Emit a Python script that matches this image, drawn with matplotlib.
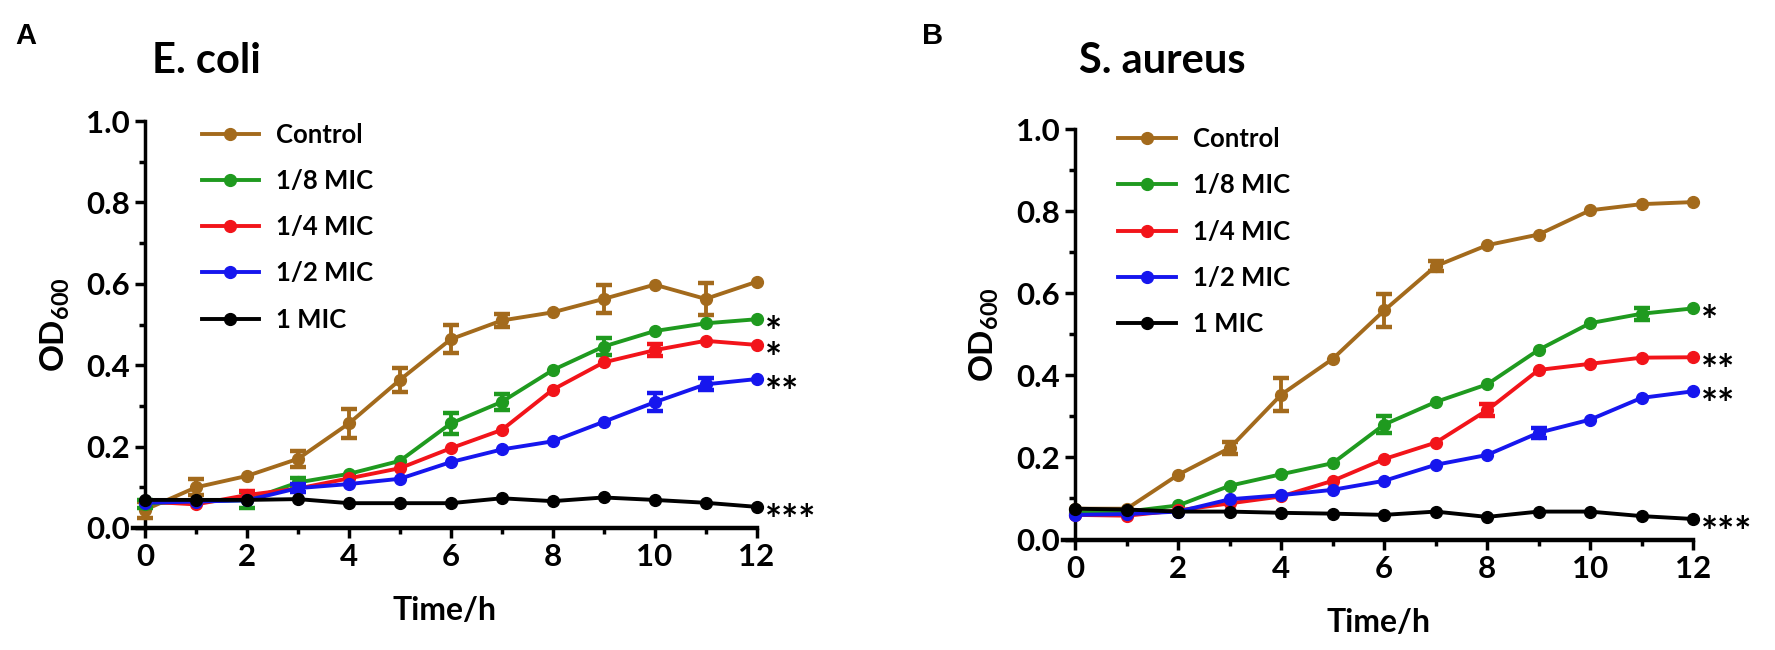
import matplotlib
matplotlib.use('Agg')
import matplotlib.pyplot as plt
import numpy as np
from matplotlib.ticker import MultipleLocator

plt.rcParams['font.family'] = ['Lato', 'DejaVu Sans']
plt.rcParams['font.weight'] = 'bold'
plt.rcParams['mathtext.fontset'] = 'custom'
plt.rcParams['mathtext.rm'] = 'Lato:bold'
plt.rcParams['mathtext.it'] = 'Lato:bold'
plt.rcParams['mathtext.bf'] = 'Lato:bold'

hours = list(range(13))
labels = ['Control', '1/8 MIC', '1/4 MIC', '1/2 MIC', '1 MIC']
colors = ['#A36A1C', '#1F9A1F', '#F2141A', '#1616EE', '#000000']

# E. coli OD600 (mean) and error bars
ecoli_control = [0.045, 0.100, 0.128, 0.170, 0.257, 0.364, 0.464, 0.510, 0.530, 0.563, 0.598, 0.563, 0.605]
ecoli_eighth  = [0.060, 0.065, 0.068, 0.112, 0.133, 0.165, 0.257, 0.310, 0.388, 0.446, 0.484, 0.503, 0.513]
ecoli_quarter = [0.065, 0.058, 0.081, 0.097, 0.122, 0.147, 0.196, 0.241, 0.340, 0.407, 0.437, 0.460, 0.450]
ecoli_half    = [0.062, 0.065, 0.068, 0.098, 0.108, 0.121, 0.162, 0.193, 0.213, 0.261, 0.309, 0.353, 0.366]
ecoli_one     = [0.069, 0.069, 0.069, 0.071, 0.061, 0.061, 0.061, 0.073, 0.066, 0.075, 0.069, 0.062, 0.052]

ecoli_control_err = [0.02, 0.02, 0, 0.02, 0.035, 0.03, 0.035, 0.015, 0, 0.035, 0, 0.04, 0]
ecoli_eighth_err  = [0.01, 0, 0.02, 0.01, 0, 0, 0.025, 0.02, 0, 0.02, 0, 0, 0]
ecoli_quarter_err = [0, 0, 0.01, 0, 0, 0, 0, 0, 0, 0, 0.015, 0, 0]
ecoli_half_err    = [0, 0, 0, 0.01, 0, 0, 0, 0, 0, 0, 0.022, 0.015, 0]
ecoli_one_err     = [0] * 13

# S. aureus OD600 (mean) and error bars
sa_control = [0.075, 0.075, 0.158, 0.223, 0.353, 0.440, 0.558, 0.666, 0.717, 0.743, 0.802, 0.817, 0.822]
sa_eighth  = [0.065, 0.068, 0.083, 0.131, 0.159, 0.186, 0.280, 0.335, 0.378, 0.462, 0.527, 0.550, 0.563]
sa_quarter = [0.060, 0.058, 0.071, 0.088, 0.105, 0.143, 0.196, 0.236, 0.315, 0.413, 0.428, 0.443, 0.444]
sa_half    = [0.060, 0.062, 0.068, 0.098, 0.108, 0.121, 0.143, 0.182, 0.206, 0.260, 0.292, 0.345, 0.361]
sa_one     = [0.075, 0.073, 0.068, 0.068, 0.065, 0.063, 0.060, 0.068, 0.055, 0.068, 0.068, 0.057, 0.050]

sa_control_err = [0, 0, 0, 0.015, 0.04, 0, 0.04, 0.012, 0, 0, 0, 0, 0]
sa_eighth_err  = [0, 0, 0, 0, 0, 0, 0.02, 0, 0, 0, 0, 0.015, 0]
sa_quarter_err = [0, 0, 0, 0, 0, 0, 0, 0, 0.015, 0, 0, 0, 0]
sa_half_err    = [0, 0, 0, 0, 0, 0, 0, 0, 0, 0.012, 0, 0, 0]
sa_one_err     = [0] * 13

ecoli_stars = ['', '*', '*', '**', '***']
sa_stars = ['', '*', '**', '**', '***']


def draw_panel(ax, series, errors, stars, leg_anchor):
    t = np.array(hours)
    for y, err, col, lab, st in zip(series, errors, colors, labels, stars):
        y = np.array(y)
        err = np.array(err)
        ax.plot(t, y, '-o', color=col, lw=2.8, ms=8.5, label=lab, clip_on=False, zorder=3)
        m = err > 0
        if m.any():
            ax.errorbar(t[m], y[m], yerr=err[m], fmt='none', ecolor=col,
                        elinewidth=2.8, capsize=6, capthick=3.2, zorder=3, clip_on=False)
        if st:
            ax.annotate(st, xy=(12, y[-1]), xytext=(6, -11), textcoords='offset points',
                        ha='left', va='center', fontsize=29, fontweight='bold')

    # x axis runs a little to the left of the y axis, as in the original
    ax.set_xlim(-0.24, 12)
    ax.set_ylim(0, 1.0)
    ax.spines['left'].set_position(('data', 0))
    ax.xaxis.set_major_locator(MultipleLocator(2))
    ax.xaxis.set_minor_locator(MultipleLocator(1))
    ax.yaxis.set_major_locator(MultipleLocator(0.2))
    ax.yaxis.set_minor_locator(MultipleLocator(0.1))
    ax.yaxis.set_major_formatter(plt.FuncFormatter(lambda v, p: '%.1f' % v))
    for s in ['top', 'right']:
        ax.spines[s].set_visible(False)
    ax.spines['left'].set_linewidth(2.5)
    ax.spines['bottom'].set_linewidth(3.2)
    ax.tick_params(which='major', length=7, width=2.5, labelsize=22.5, pad=4)
    ax.tick_params(which='minor', length=4.5, width=2.5)
    ax.set_xlabel('Time/h', fontsize=23, fontweight='bold', labelpad=18)
    ax.set_ylabel(r'OD$_{600}$', fontsize=24, fontweight='bold')
    ax.yaxis.set_label_coords(-0.098, 0.5)
    ax.legend(loc='upper left', bbox_to_anchor=leg_anchor, frameon=False,
              handlelength=2.25, handletextpad=0.66, labelspacing=0.86,
              fontsize=18.5, borderpad=0, borderaxespad=0)


fig = plt.figure(figsize=(17.75, 6.5), dpi=100)

ax1 = fig.add_axes([0.0749, 0.1877, 0.3513, 0.626])
draw_panel(ax1,
           [ecoli_control, ecoli_eighth, ecoli_quarter, ecoli_half, ecoli_one],
           [ecoli_control_err, ecoli_eighth_err, ecoli_quarter_err, ecoli_half_err, ecoli_one_err],
           ecoli_stars, (0.11, 0.995))

ax2 = fig.add_axes([0.5989, 0.17, 0.3549, 0.6315])
draw_panel(ax2,
           [sa_control, sa_eighth, sa_quarter, sa_half, sa_one],
           [sa_control_err, sa_eighth_err, sa_quarter_err, sa_half_err, sa_one_err],
           sa_stars, (0.088, 1.004))

fig.text(0.0085, 0.933, 'A', fontsize=21, fontweight='bold', va='baseline',
         family=['Liberation Sans', 'DejaVu Sans'])
fig.text(0.0856, 0.8877, 'E. coli', fontsize=30, fontweight='bold', va='baseline')
fig.text(0.5194, 0.933, 'B', fontsize=21, fontweight='bold', va='baseline',
         family=['Liberation Sans', 'DejaVu Sans'])
fig.text(0.6079, 0.8877, 'S. aureus', fontsize=30, fontweight='bold', va='baseline')

fig.savefig('out.png', dpi=100)
